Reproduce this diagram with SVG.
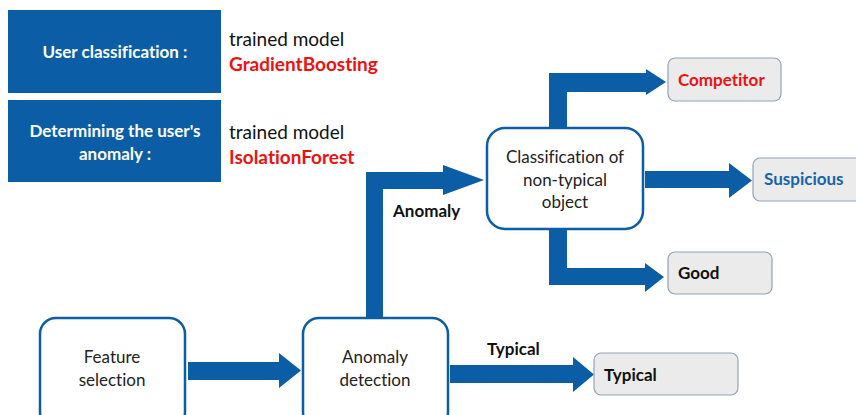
<svg xmlns="http://www.w3.org/2000/svg" width="856" height="415" viewBox="0 0 856 415">
<style>
text{font-variant-ligatures:none;font-family:Lato,"Liberation Sans",sans-serif}
.hdr{fill:#0B5EA6}
.ht{font-weight:bold;font-size:17px;fill:#fff;text-anchor:middle}
.tm{font-size:19px;fill:#111}
.red{font-weight:bold;font-size:19px;fill:#EE1111}
.node{fill:#fff;stroke:#0B5EA6;stroke-width:2.5}
.nt{font-size:17px;fill:#222;text-anchor:middle}
.res{fill:#EBEBEB;stroke:#8FA3B8;stroke-width:1.2}
.rt{font-weight:bold;font-size:17px;fill:#111}
.lbl{font-weight:bold;font-size:17px;fill:#111}
.arr{fill:#0B5EA6}
</style>
<rect width="856" height="415" fill="#fff"/>
<g id="legend-user-classification">
<rect class="hdr" x="8" y="10" width="213" height="83"/>
<text class="ht" x="115" y="58">User classification :</text>
<text class="tm" x="229" y="46">trained model</text>
<text class="red" x="229" y="71">GradientBoosting</text>
</g>
<g id="legend-anomaly">
<rect class="hdr" x="8" y="100" width="213" height="82"/>
<text class="ht" x="115" y="137">Determining the user's</text>
<text class="ht" x="115" y="160">anomaly :</text>
<text class="tm" x="229" y="139">trained model</text>
<text class="red" x="229" y="164">IsolationForest</text>
</g>
<g id="connectors">
<polygon class="arr" points="188,362 279,362 279,353 301,370.5 279,388 279,380 188,380"/>
<polygon class="arr" points="366,318 366,172 443,172 443,165 484,180 443,195 443,189 383,189 383,318"/>
<polygon class="arr" points="549,128 549,73 646,73 646,69 666,82 646,95 646,92 567,92 567,128"/>
<polygon class="arr" points="645,171 729,171 729,163 752,180.5 729,198 729,188 645,188"/>
<polygon class="arr" points="549,229 549,285 645,285 645,292 664,277 645,263 645,268 567,268 567,229"/>
<polygon class="arr" points="450,365 573,365 573,357 594,374.5 573,392 573,383 450,383"/>
<text class="lbl" x="393" y="217">Anomaly</text>
<text class="lbl" x="487" y="355">Typical</text>
</g>
<g id="feature-selection">
<rect class="node" x="40" y="318" width="145" height="110" rx="16"/>
<text class="nt" x="112" y="363">Feature</text>
<text class="nt" x="112" y="386">selection</text>
</g>
<g id="anomaly-detection">
<rect class="node" x="303" y="318" width="145" height="110" rx="16"/>
<text class="nt" x="375" y="363">Anomaly</text>
<text class="nt" x="375" y="386">detection</text>
</g>
<g id="classification">
<rect class="node" x="487" y="128" width="156" height="101" rx="18"/>
<text class="nt" x="565" y="163">Classification of</text>
<text class="nt" x="565" y="186">non-typical</text>
<text class="nt" x="565" y="208">object</text>
</g>
<g id="competitor">
<rect class="res" x="668" y="58" width="113" height="43" rx="7"/>
<text class="rt" x="678" y="86" style="fill:#EE1111">Competitor</text>
</g>
<g id="suspicious">
<rect class="res" x="753" y="158" width="110" height="43" rx="7"/>
<text class="rt" x="764" y="185" style="fill:#1565A8">Suspicious</text>
</g>
<g id="good">
<rect class="res" x="668" y="252" width="104" height="42" rx="7"/>
<text class="rt" x="678" y="279">Good</text>
</g>
<g id="typical">
<rect class="res" x="594" y="353" width="144" height="42" rx="7"/>
<text class="rt" x="604" y="381">Typical</text>
</g>
</svg>
